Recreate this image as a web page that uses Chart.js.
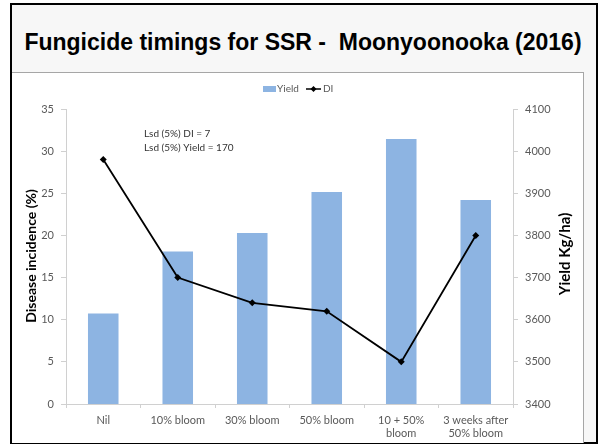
<!DOCTYPE html>
<html>
<head>
<meta charset="utf-8">
<script src="https://cdn.jsdelivr.net/npm/chart.js@4.4.1/dist/chart.umd.min.js"></script>
<style>
  html, body { margin: 0; padding: 0; background: #ffffff; width: 600px; height: 445px; overflow: hidden; }
  #frame { position: absolute; left: 10px; top: 3px; width: 588px; height: 441px; box-sizing: border-box; border: 2px solid #000; background: #f7f7f7; }
  #title { position: absolute; left: 12px; top: 29px; width: 582px; text-align: center; font-family: "Liberation Sans", Arial, sans-serif; font-weight: bold; font-size: 23px; color: #000; white-space: nowrap; }
  #box { position: absolute; left: 12px; top: 72px; width: 572px; height: 371px; box-sizing: border-box; background: #ffffff; border-top: 1px solid #a6a6a6; border-right: 1px solid #a6a6a6; }
  #wrap { position: absolute; left: 12px; top: 73px; width: 571px; height: 370px; }
</style>
</head>
<body>
<div id="frame"></div>
<div id="title">Fungicide timings for SSR -&nbsp; Moonyoonooka (2016)</div>
<div id="box"></div>
<div id="wrap"><canvas id="c" width="571" height="370"></canvas></div>
<script>
const categories = ['Nil', '10% bloom', '30% bloom', '50% bloom', ['10 + 50%', 'bloom'], ['3 weeks after', '50% bloom']];
const yieldValues = [3615, 3762, 3806, 3903, 4029, 3884];
const diValues = [29, 15, 12, 11, 5, 20];
const leftTicks = [0, 35, 5];
const rightTicks = [3400, 4100, 100];
const annotationLines = ['Lsd (5%) DI = 7', 'Lsd (5%) Yield = 170'];
const leftTitle = 'Disease incidence (%)';
const rightTitle = 'Yield Kg/ha)';

const FONT = 'Lato, "Open Sans", sans-serif';
const BAR = '#8db4e2';
const AXIS = '#d0d0d0';
const TXT = '#595959';

const extras = {
  id: 'extras',
  afterDraw(chart) {
    const ctx = chart.ctx;
    ctx.save();
    // legend
    const ly = 16;
    ctx.fillStyle = BAR;
    ctx.fillRect(251, ly - 3, 13, 6);
    ctx.fillStyle = TXT;
    ctx.font = '10px ' + FONT;
    ctx.textBaseline = 'middle';
    ctx.textAlign = 'left';
    ctx.fillText('Yield', 265, ly);
    ctx.strokeStyle = '#000';
    ctx.lineWidth = 1.5;
    ctx.beginPath(); ctx.moveTo(294, ly); ctx.lineTo(309, ly); ctx.stroke();
    ctx.fillStyle = '#000';
    ctx.beginPath(); ctx.moveTo(301.5, ly - 3); ctx.lineTo(304.5, ly); ctx.lineTo(301.5, ly + 3); ctx.lineTo(298.5, ly); ctx.closePath(); ctx.fill();
    ctx.fillStyle = TXT;
    ctx.fillText('DI', 311, ly);
    // annotation
    ctx.fillStyle = '#333';
    ctx.font = '10px ' + FONT;
    ctx.fillText(annotationLines[0], 132, 61);
    ctx.fillText(annotationLines[1], 132, 75);
    // axis titles
    ctx.fillStyle = '#000';
    ctx.textAlign = 'center';
    ctx.font = 'bold 14px ' + FONT;
    ctx.save();
    ctx.translate(19, 183);
    ctx.rotate(-Math.PI / 2);
    ctx.fillText(leftTitle, 0, 0);
    ctx.restore();
    ctx.font = 'bold 15px ' + FONT;
    ctx.save();
    ctx.translate(553, 181);
    ctx.rotate(-Math.PI / 2);
    ctx.fillText(rightTitle, 0, 0);
    ctx.restore();
    ctx.restore();
  }
};

const plain = v => String(v);

new Chart(document.getElementById('c'), {
  data: {
    labels: categories,
    datasets: [
      {
        type: 'line', label: 'DI', data: diValues, yAxisID: 'y', order: 0,
        borderColor: '#000', backgroundColor: '#000', borderWidth: 1.8,
        pointStyle: 'rectRot', pointRadius: 3.5, pointBackgroundColor: '#000', pointBorderWidth: 0,
        tension: 0, fill: false
      },
      {
        type: 'bar', label: 'Yield', data: yieldValues, yAxisID: 'y1', order: 1,
        backgroundColor: BAR, borderWidth: 0,
        categoryPercentage: 1.0, barPercentage: 0.41
      }
    ]
  },
  options: {
    responsive: false,
    animation: false,
    devicePixelRatio: 1,
    layout: { padding: { top: 36, left: 0, right: 0, bottom: 0 } },
    plugins: { legend: { display: false }, tooltip: { enabled: false }, title: { display: false } },
    scales: {
      x: {
        offset: true,
        grid: { display: true, drawOnChartArea: false, drawTicks: true, tickLength: 4, color: AXIS, offset: true },
        border: { color: AXIS, width: 1 },
        ticks: { color: TXT, font: { family: FONT, size: 11 }, padding: 6, maxRotation: 0, autoSkip: false },
        afterFit(s) { s.height = 39; }
      },
      y: {
        position: 'left', min: leftTicks[0], max: leftTicks[1],
        grid: { display: true, drawOnChartArea: false, drawTicks: true, tickLength: 5, color: AXIS },
        border: { color: AXIS, width: 1 },
        ticks: { stepSize: leftTicks[2], color: TXT, font: { family: FONT, size: 11 }, padding: 7, callback: plain },
        afterFit(s) { s.width = 54; }
      },
      y1: {
        position: 'right', min: rightTicks[0], max: rightTicks[1],
        grid: { display: true, drawOnChartArea: false, drawTicks: true, tickLength: 5, color: AXIS },
        border: { color: AXIS, width: 1 },
        ticks: { stepSize: rightTicks[2], color: TXT, font: { family: FONT, size: 11 }, padding: 7, callback: plain },
        afterFit(s) { s.width = 70; }
      }
    }
  },
  plugins: [extras]
});
</script>
</body>
</html>
